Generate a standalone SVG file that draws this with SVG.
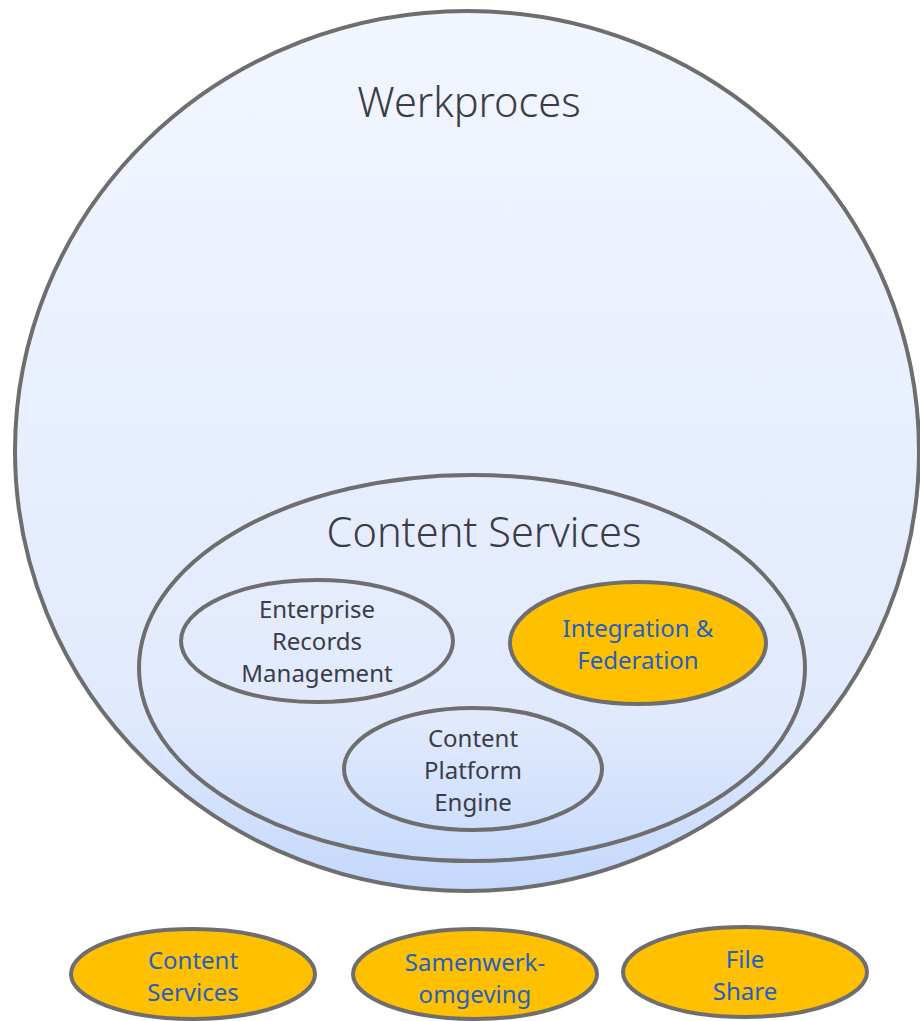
<svg xmlns="http://www.w3.org/2000/svg" width="920" height="1021" viewBox="0 0 920 1021">
<defs>
<linearGradient id="bg" x1="0" y1="0" x2="0" y2="1">
<stop offset="0" stop-color="#f2f6ff"/>
<stop offset="0.8" stop-color="#e1eafd"/>
<stop offset="1" stop-color="#c4d8fc"/>
</linearGradient>
<style>
.sh{stroke:#6e6e6e;stroke-width:4}
.y{fill:#ffc000}
.t{font-family:"Noto Sans","DejaVu Sans",sans-serif;fill:#3c3c46;text-anchor:middle}
.b{font-family:"Noto Sans","DejaVu Sans",sans-serif;fill:#2360c4;text-anchor:middle}
</style>
</defs>
<rect width="920" height="1021" fill="#ffffff"/>
<g id="werkproces">
<ellipse class="sh" cx="467" cy="451" rx="452" ry="440" fill="url(#bg)"/>
<text class="t" x="469" y="117" font-size="41.5" font-weight="300">Werkproces</text>
</g>
<g id="content-services">
<ellipse class="sh" cx="472" cy="668" rx="333" ry="193" fill="none"/>
<text class="t" x="484" y="547" font-size="41.5" font-weight="300">Content Services</text>
</g>
<g id="erm">
<ellipse class="sh" cx="317" cy="641" rx="136" ry="61" fill="none"/>
<text class="t" font-size="24"><tspan x="317" y="618">Enterprise</tspan><tspan x="317" y="650">Records</tspan><tspan x="317" y="682">Management</tspan></text>
</g>
<g id="integration">
<ellipse class="sh y" cx="638" cy="643" rx="128" ry="61"/>
<text class="b" font-size="24"><tspan x="638" y="637">Integration &amp;</tspan><tspan x="638" y="669">Federation</tspan></text>
</g>
<g id="cpe">
<ellipse class="sh" cx="473" cy="769" rx="129" ry="61" fill="none"/>
<text class="t" font-size="24"><tspan x="473" y="747">Content</tspan><tspan x="473" y="779">Platform</tspan><tspan x="473" y="811">Engine</tspan></text>
</g>
<g id="bottom-content-services">
<ellipse class="sh y" cx="193" cy="974" rx="122" ry="45"/>
<text class="b" font-size="24"><tspan x="193" y="969">Content</tspan><tspan x="193" y="1001">Services</tspan></text>
</g>
<g id="samenwerkomgeving">
<ellipse class="sh y" cx="475" cy="974" rx="122" ry="45"/>
<text class="b" font-size="24"><tspan x="475" y="971">Samenwerk-</tspan><tspan x="475" y="1003">omgeving</tspan></text>
</g>
<g id="file-share">
<ellipse class="sh y" cx="745" cy="972" rx="122" ry="45"/>
<text class="b" font-size="24"><tspan x="745" y="968">File</tspan><tspan x="745" y="1000">Share</tspan></text>
</g>
<g id="connectors"></g>
</svg>
